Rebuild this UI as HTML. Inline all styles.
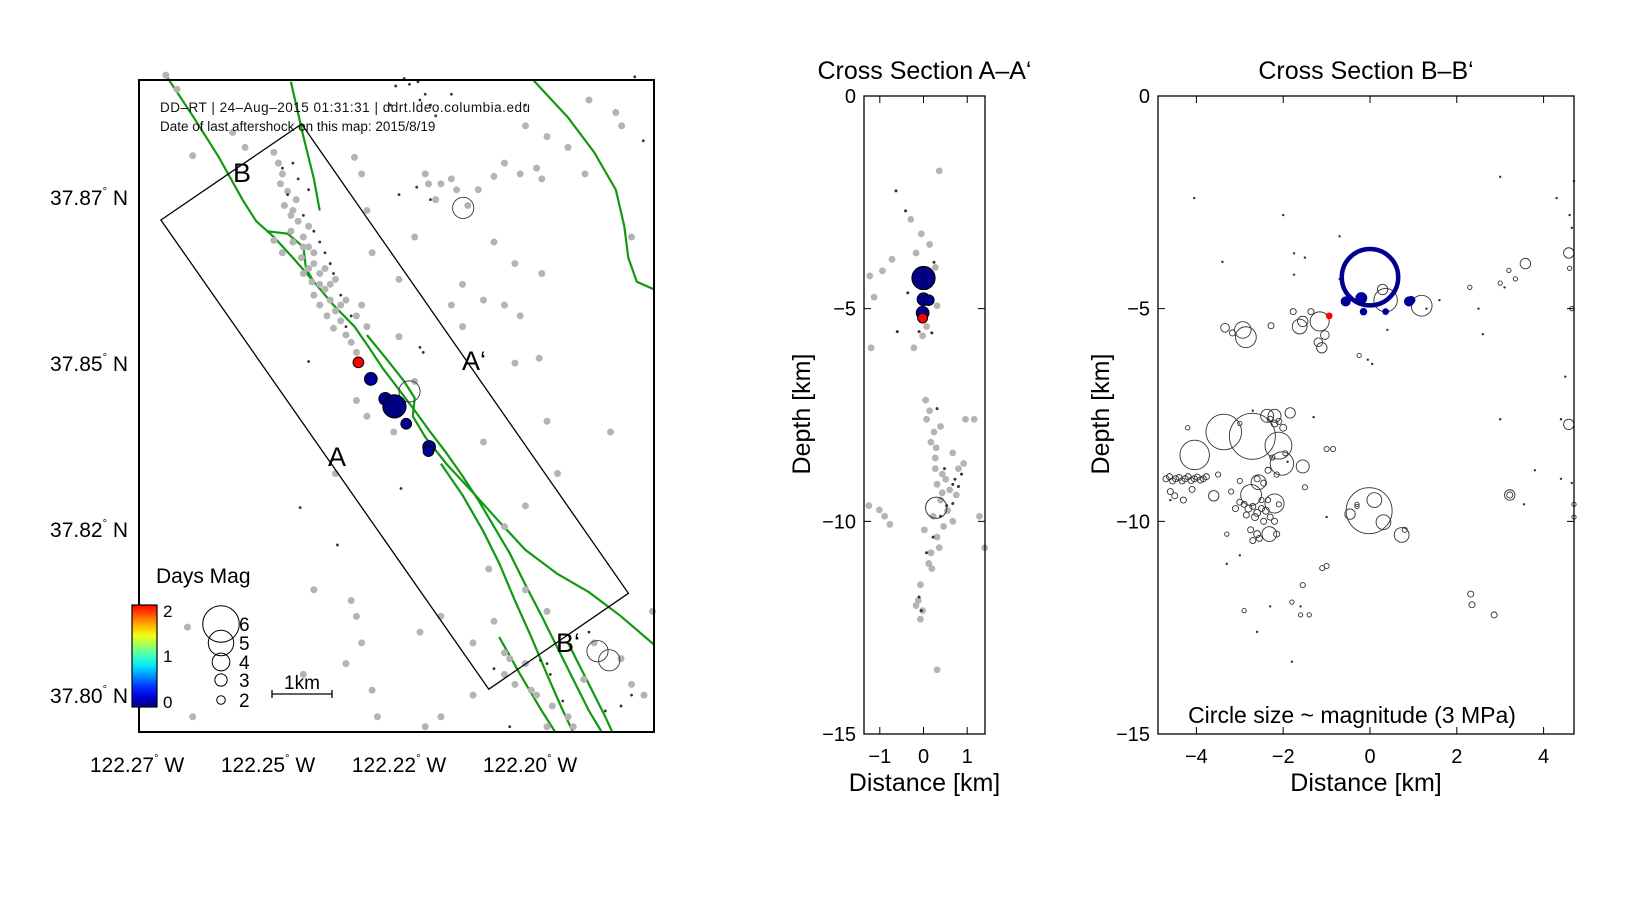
<!DOCTYPE html>
<html><head><meta charset="utf-8"><style>
html,body{margin:0;padding:0;background:#fff;}
svg{display:block;font-family:"Liberation Sans",sans-serif;}
</style></head><body>
<svg id="fig" xmlns="http://www.w3.org/2000/svg" width="1650" height="900" viewBox="0 0 1650 900">
<rect x="0" y="0" width="1650" height="900" fill="#fff"/>
<defs><linearGradient id="jet" x1="0" y1="1" x2="0" y2="0"></linearGradient></defs>
</svg>
<script>
// ---------------- MAP DATA ----------------
const lonTicks=[-122.27,-122.25,-122.23,-122.21];
const lonTickLabels=["122.27","122.25","122.22","122.20"];
const latTicks=[37.87,37.85,37.83,37.81];
const latTickLabels=["37.87","37.85","37.82","37.80"];
const grayLon=[-122.2491,-122.2484,-122.2478,-122.2481,-122.2470,-122.2475,-122.2462,-122.2454,-122.2465,-122.2446,-122.2438,-122.2449,-122.2430,-122.2421,-122.2433,-122.2413,-122.2405,-122.2421,-122.2397,-122.2389,-122.2400,-122.2381,-122.2373,-122.2365,-122.2438,-122.2457,-122.2430,-122.2413,-122.2397,-122.2381,-122.2410,-122.2462,-122.2446,-122.2430,-122.2478,-122.2491,-122.2365,-122.2357,-122.2349,-122.2421,-122.2438,-122.2405,-122.2389,-122.2465,-122.2446,
-122.2656,-122.2639,-122.2615,-122.2554,-122.2535,-122.2368,-122.2357,-122.2349,-122.2341,-122.2300,-122.2276,-122.2255,-122.2244,-122.2260,-122.2212,-122.2195,-122.2179,-122.2155,-122.2139,-122.2115,-122.2090,-122.2082,-122.2107,-122.2074,-122.2010,-122.1969,-122.1960,-122.2042,-122.2016,-122.1945,-122.2203,-122.2220,-122.2171,-122.2139,-122.2115,-122.2155,-122.2123,-122.2082,-122.2086,-122.2300,-122.2203,-122.2365,-122.2349,-122.2276,-122.2308,-122.2171,-122.2123,-122.2074,-122.1977,-122.2058,-122.2107,-122.2139,-122.2163,-122.2107,-122.2074,-122.2155,-122.2139,-122.2187,-122.2236,-122.2268,-122.2365,-122.2357,-122.2373,-122.2381,-122.2341,-122.2333,-122.2260,-122.2236,-122.2187,-122.2139,-122.2107,-122.2090,-122.2074,-122.2042,-122.2018,-122.2002,-122.1961,-122.1945,-122.1926,-122.1913,-122.2615,-122.2688,-122.2446,-122.2623,-122.2397,-122.2430,-122.2131,-122.2123,-122.2098,-122.2066,-122.2034,-122.2220,-122.2236];
const grayLat=[37.8755,37.8742,37.8729,37.8717,37.8708,37.8691,37.8685,37.8672,37.8660,37.8653,37.8641,37.8628,37.8621,37.8609,37.8599,37.8590,37.8577,37.8571,37.8564,37.8552,37.8543,37.8535,37.8526,37.8514,37.8666,37.8698,37.8634,37.8615,37.8602,37.8577,37.8558,37.8647,37.8609,37.8583,37.8634,37.8649,37.8558,37.8571,37.8545,37.8596,37.8615,37.8596,37.8571,37.8679,37.8641,
37.8848,37.8831,37.8751,37.8779,37.8761,37.8749,37.8729,37.8685,37.8634,37.8602,37.8653,37.8717,37.8698,37.8729,37.8710,37.8691,37.8710,37.8726,37.8742,37.8729,37.8736,37.8723,37.8787,37.8774,37.8818,37.8803,37.8787,37.8761,37.8729,37.8653,37.8596,37.8571,37.8577,37.8571,37.8558,37.8647,37.8621,37.8609,37.8507,37.8533,37.8545,37.8456,37.8437,37.8479,37.8418,37.8406,37.8501,37.8431,37.8418,37.8368,37.8329,37.8304,37.8253,37.8228,37.8202,37.8190,37.8152,37.8164,37.8196,37.8177,37.8196,37.8164,37.8215,37.8139,37.8107,37.8075,37.8063,37.8075,37.8101,37.8126,37.8139,37.8101,37.8063,37.8075,37.8120,37.8164,37.8145,37.8114,37.8101,37.8202,37.8075,37.8114,37.8126,37.8183,37.8368,37.8228,37.8145,37.8114,37.8107,37.8088,37.8063,37.8723,37.8717];
const blackLon=[-122.2284,-122.2271,-122.2260,-122.2268,-122.2252,-122.2244,-122.2292,-122.2305,-122.2313,-122.2300,-122.2273,-122.2252,-122.2220,-122.2107,-122.1940,-122.1927,-122.2478,-122.2470,-122.2446,-122.2430,-122.2413,-122.2400,-122.2389,-122.2373,-122.2438,-122.2454,-122.2268,-122.2263,-122.2438,-122.2297,-122.2394,-122.2451,-122.2084,-122.2074,-122.2069,-122.2010,-122.1961,-122.1945,-122.1985,-122.2050,-122.2155,-122.2131,-122.2462,-122.2421,-122.2405,-122.2381];
const blackLat=[37.8837,37.8840,37.8825,37.8818,37.8812,37.8799,37.8844,37.8835,37.8812,37.8704,37.8713,37.8698,37.8825,37.8812,37.8846,37.8769,37.8736,37.8704,37.8679,37.8660,37.8634,37.8609,37.8583,37.8558,37.8710,37.8723,37.8520,37.8514,37.8503,37.8350,37.8282,37.8327,37.8143,37.8139,37.8126,37.8177,37.8088,37.8101,37.8082,37.8094,37.8133,37.8063,37.8742,37.8647,37.8621,37.8545];
const evLon=[-122.2362,-122.2343,-122.2321,-122.2307,-122.2289,-122.2254,-122.2255];
const evLat=[37.8502,37.8482,37.8458,37.8449,37.8428,37.8400,37.8395];
const evDays=[2.0,0.05,0.05,0.0,0.05,0.05,0.05];
const evMag=[2.6,3.1,3.1,4.75,2.6,3.1,2.6];
const oldLon=[-122.2284,-122.2202,-122.1997,-122.1979];
const oldLat=[37.8467,37.8688,37.8154,37.8143];
const oldMag=[4.5,4.5,4.5,4.5];
const faultLon=[
[-122.2656,-122.2615,-122.2575,-122.2539,-122.2518,-122.2491,-122.2462,-122.2430,-122.2400,-122.2368,-122.2346,-122.2325,-122.2300,-122.2276,-122.2252,-122.2228,-122.2203,-122.2179,-122.2155,-122.2131,-122.2107,-122.2082,-122.2058,-122.2034,-122.2010,-122.1990],
[-122.2349,-122.2320,-122.2292,-122.2276,-122.2279,-122.2260,-122.2228,-122.2187,-122.2147,-122.2107,-122.2058,-122.2010,-122.1961,-122.1911],
[-122.2236,-122.2203,-122.2171,-122.2147,-122.2123,-122.2098,-122.2074,-122.2053,-122.2034],
[-122.2147,-122.2115,-122.2082,-122.2061],
[-122.2042,-122.2010,-122.1985,-122.1974],
[-122.2465,-122.2446,-122.2430,-122.2421],
[-122.2095,-122.2042,-122.2002,-122.1969,-122.1956,-122.1950,-122.1937,-122.1911],
[-122.2502,-122.2470,-122.2446,-122.2442,-122.2430]];
const faultLat=[
[37.8848,37.8799,37.8749,37.8698,37.8672,37.8653,37.8628,37.8599,37.8571,37.8545,37.8520,37.8495,37.8469,37.8444,37.8418,37.8393,37.8365,37.8336,37.8304,37.8272,37.8234,37.8196,37.8158,37.8120,37.8082,37.8056],
[37.8535,37.8507,37.8479,37.8459,37.8437,37.8412,37.8380,37.8345,37.8310,37.8276,37.8247,37.8225,37.8196,37.8162],
[37.8380,37.8342,37.8298,37.8260,37.8215,37.8171,37.8126,37.8088,37.8056],
[37.8171,37.8126,37.8082,37.8056],
[37.8164,37.8114,37.8075,37.8056],
[37.8840,37.8774,37.8723,37.8685],
[37.8842,37.8797,37.8755,37.8710,37.8666,37.8628,37.8599,37.8590],
[37.8660,37.8657,37.8641,37.8615,37.8599]];
const boxLon=[-122.26635,-122.24487,-122.19498,-122.21629];
const boxLat=[37.86735,37.87891,37.82237,37.81082];
const legendMags=[6,5,4,3,2];

// ---------------- CROSS SECTION A ----------------
const aXTicks=[-1,0,1];
const depthTicks=[0,-5,-10,-15];
const aGrayX=[0.36,-0.29,-0.05,-0.17,0.14,-0.72,-1.23,-0.94,-1.13,0.27,-0.22,0.07,-0.02,-1.20,0.39,0.05,0.07,0.17,0.27,0.27,0.31,0.39,0.55,0.67,0.46,0.31,0.17,0.19,-0.07,-0.12,-0.02,0.80,0.92,1.16,0.96,-1.25,-1.01,-0.89,-0.77,1.28,1.40,0.02,0.07,-0.05,0.31,0.07,0.67,0.43,0.60,0.22,0.31,0.02,0.14,0.24,0.29,0.43,0.51,0.75,0.36,0.12,-0.17,-0.07];
const aGrayD=[-1.76,-2.90,-3.24,-3.69,-3.49,-3.84,-4.23,-4.11,-4.73,-4.03,-5.92,-5.42,-5.64,-5.92,-7.77,-7.15,-7.60,-8.14,-8.51,-8.76,-9.13,-9.50,-9.75,-10.0,-10.12,-10.37,-10.74,-11.11,-11.49,-11.86,-12.10,-8.76,-8.64,-7.60,-7.60,-9.63,-9.73,-9.88,-10.07,-9.88,-10.62,-4.18,-4.38,-5.0,-4.93,-4.75,-8.39,-9.33,-9.26,-9.88,-13.49,-10.20,-7.40,-7.90,-8.27,-8.89,-9.01,-9.38,-10.62,-10.99,-11.98,-12.3];
const aBlackX=[-0.63,-0.41,0.24,-0.36,-0.60,-0.10,0.19,0.31,0.48,0.67,0.80,0.53,0.67,0.39,0.22,0.07,-0.10,-0.05,0.72,0.87];
const aBlackD=[-2.23,-2.70,-3.91,-4.63,-5.54,-5.54,-5.57,-7.35,-8.76,-9.13,-9.18,-9.63,-9.58,-9.88,-10.37,-10.74,-11.78,-12.10,-9.01,-8.89];
const aEvX=[0.0,0.0,0.12,-0.02,-0.02];
const aEvD=[-4.28,-4.78,-4.80,-5.10,-5.22];
const aEvDays=[0.0,0.05,0.05,0.05,2.0];
const aEvMag=[4.75,3.1,2.6,3.1,2.4];
const aOldX=[0.29]; const aOldD=[-9.68]; const aOldMag=[4.5];

// ---------------- CROSS SECTION B ----------------
const bXTicks=[-4,-2,0,2,4];
const bCircX=[1.19,0.36,0.29,-1.16,-2.86,-2.93,-1.62,-1.55,-1.11,-1.04,-1.19,-3.34,-3.17,-2.28,-1.77,-1.36,-3.37,-2.71,-4.04,-2.11,-2.03,-2.37,-2.20,-1.84,-2.74,-2.20,-2.57,-1.55,-3.6,-0.02,0.10,0.31,0.73,-0.46,3.22,3.22,3.58,4.58,4.58,2.32,2.35,2.86,-2.32,-2.15,
-4.70,-4.62,-4.55,-4.48,-4.40,-4.33,-4.26,-4.19,-4.12,-4.05,-3.98,-3.91,-3.84,-3.77,-4.6,-4.5,-4.3,-4.1,-3.5,-3.2,-3.0,
-2.9,-2.8,-2.7,-2.6,-2.5,-2.4,-2.3,-2.85,-2.65,-2.45,-2.75,-2.6,-2.2,-3.1,-3.0,-2.5,-2.35,-2.1,-2.7,-2.55,
-2.3,-2.2,-2.1,-2.0,-2.25,-2.15,-1.95,-2.45,-2.6,-2.35,
3.2,3.35,3.0,2.3,4.6,4.65,4.7,4.7,-1.0,-0.85,-1.5,-1.1,-1.0,0.8,-0.3,-0.3,-0.25,-1.55,-1.4,-1.6,-1.8,-2.9,-3.3,-4.2,-3.0];
const bCircD=[-4.93,-4.80,-4.55,-5.30,-5.67,-5.50,-5.42,-5.30,-5.92,-5.62,-5.79,-5.45,-5.57,-5.40,-5.07,-5.07,-7.90,-8.00,-8.44,-8.22,-8.64,-7.52,-7.52,-7.45,-9.38,-9.58,-9.08,-8.71,-9.4,-9.75,-9.50,-10.02,-10.32,-9.83,-9.38,-9.38,-3.94,-3.69,-7.72,-11.71,-11.96,-12.20,-10.30,-10.3,
-9.0,-8.95,-9.05,-9.0,-8.97,-9.05,-9.0,-8.95,-9.04,-9.0,-8.96,-9.03,-9.0,-8.95,-9.3,-9.4,-9.5,-9.25,-8.9,-9.3,-9.05,
-9.6,-9.7,-9.65,-9.8,-9.7,-9.75,-9.9,-9.85,-9.9,-10.0,-10.2,-10.3,-10.0,-9.7,-9.55,-9.5,-9.5,-9.6,-10.45,-10.4,
-7.6,-7.7,-7.65,-7.8,-8.5,-8.9,-8.4,-9.1,-9.0,-8.8,
-4.1,-4.3,-4.4,-4.5,-4.05,-5.0,-9.6,-9.9,-8.3,-8.3,-9.2,-11.1,-11.05,-10.2,-9.6,-9.65,-6.1,-11.5,-12.2,-12.2,-11.9,-12.1,-10.3,-7.8,-7.7];
const bCircR=[0.24,0.27,0.12,0.22,0.24,0.19,0.17,0.12,0.12,0.10,0.10,0.10,0.07,0.07,0.07,0.07,0.41,0.53,0.34,0.31,0.27,0.15,0.15,0.12,0.24,0.22,0.17,0.15,0.12,0.53,0.17,0.17,0.17,0.12,0.12,0.07,0.12,0.12,0.12,0.07,0.07,0.07,0.17,0.07,
0.07,0.07,0.07,0.07,0.07,0.07,0.07,0.07,0.07,0.07,0.07,0.07,0.07,0.07,0.07,0.07,0.07,0.07,0.06,0.06,0.06,
0.07,0.08,0.07,0.08,0.07,0.08,0.07,0.07,0.08,0.07,0.07,0.08,0.07,0.07,0.07,0.06,0.06,0.06,0.07,0.07,
0.07,0.08,0.07,0.08,0.06,0.06,0.06,0.07,0.07,0.07,
0.05,0.05,0.05,0.05,0.05,0.05,0.05,0.05,0.06,0.06,0.06,0.06,0.06,0.06,0.05,0.05,0.05,0.06,0.05,0.05,0.05,0.05,0.05,0.05,0.05];
const bDotX=[-4.05,-3.4,-2.0,-1.75,-1.5,-1.75,-0.7,-0.7,1.3,1.6,0.4,-0.1,2.5,2.6,4.3,4.7,3.0,4.6,4.5,3.0,4.4,3.8,4.4,3.55,4.65,-1.3,-1.6,-2.6,-1.8,-2.3,-4.6,-3.3,-0.05,0.05,-1.9,-2.7,-3.0,3.1,4.65,-1.0];
const bDotD=[-2.4,-3.9,-2.8,-3.7,-3.8,-4.2,-3.3,-4.3,-5.0,-4.8,-5.5,-5.1,-5.0,-5.6,-2.4,-2.0,-1.9,-2.8,-6.6,-7.6,-7.6,-8.8,-9.0,-9.6,-9.1,-7.55,-12.0,-12.6,-13.3,-12.0,-9.5,-11.0,-6.2,-6.3,-8.6,-7.4,-10.8,-4.5,-3.1,-9.9];
const bMainX=[0.0]; const bMainD=[-4.26]; const bMainR=[0.65];
const bEvX=[-0.56,-0.20,-0.15,0.36,0.90,0.95,-0.94];
const bEvD=[-4.83,-4.75,-5.07,-5.07,-4.83,-4.80,-5.17];
const bEvR=[0.10,0.12,0.07,0.06,0.10,0.08,0.06];
const bEvDays=[0.05,0.05,0.05,0.05,0.05,0.05,2.0];

// ---------------- DRAWING ----------------
const NS='http://www.w3.org/2000/svg';
const svg=document.getElementById('fig');
function mk(tag,attrs,parent){const e=document.createElementNS(NS,tag);for(const k in attrs)e.setAttribute(k,attrs[k]);(parent||svg).appendChild(e);return e;}
function jet(v){const t=Math.max(0,Math.min(1,v));const c=x=>Math.round(255*Math.max(0,Math.min(1,1.5-Math.abs(4*t-x))));return 'rgb('+c(3)+','+c(2)+','+c(1)+')';}
function dayColor(d){return jet(Math.max(0,Math.min(2,d))/2*0.875);}
function magR(m){return 2.08*Math.exp(0.362*m);}

const mapL=139,mapT=80,mapR=654,mapB=732;
function xMap(lon){return 137+(lon+122.27)*6550;}
function yMap(lat){return 198-(lat-37.87)*8300;}

const gMap=mk('g',{});


faultLon.forEach((arr,i)=>{
  const pts=arr.map((lo,j)=>xMap(lo).toFixed(1)+','+yMap(faultLat[i][j]).toFixed(1)).join(' ');
  const pl=mk('polyline',{points:pts,fill:'none',stroke:'#119911','stroke-width':2.2},gMap);
  
  
});
grayLon.forEach((lo,i)=>{
  const c=mk('circle',{cx:xMap(lo),cy:yMap(grayLat[i]),r:3.5,fill:'#b4b4b4'},gMap);
  
  
});
blackLon.forEach((lo,i)=>{
  const c=mk('circle',{cx:xMap(lo),cy:yMap(blackLat[i]),r:1.4,fill:'#333'},gMap);
  
  
});
const boxPts=boxLon.map((lo,i)=>xMap(lo).toFixed(1)+','+yMap(boxLat[i]).toFixed(1)).join(' ');
const box=mk('polygon',{points:boxPts,fill:'none',stroke:'#000','stroke-width':1.3},gMap);


oldLon.forEach((lo,i)=>{
  const c=mk('circle',{cx:xMap(lo),cy:yMap(oldLat[i]),r:magR(oldMag[i]),fill:'none',stroke:'#333','stroke-width':0.9},gMap);
  
  
});
evLon.forEach((lo,i)=>{
  const c=mk('circle',{cx:xMap(lo),cy:yMap(evLat[i]),r:magR(evMag[i]),fill:dayColor(evDays[i]),stroke:'#000','stroke-width':1},gMap);
  
  
});
const frame=mk('rect',{x:mapL,y:mapT,width:mapR-mapL,height:mapB-mapT,fill:'none',stroke:'#000','stroke-width':2},gMap);


lonTicks.forEach((v,i)=>{
  const t=mk('text',{x:xMap(v),y:772,'font-size':21,'text-anchor':'middle',fill:'#000'},gMap);
  t.innerHTML=lonTickLabels[i]+'<tspan font-size="11" dy="-10">°</tspan><tspan dy="10"> W</tspan>';
  
  
});
latTicks.forEach((v,i)=>{
  const t=mk('text',{x:128,y:yMap(v)+7,'font-size':21,'text-anchor':'end',fill:'#000'},gMap);
  t.innerHTML=latTickLabels[i]+'<tspan font-size="11" dy="-10">°</tspan><tspan dy="10"> N</tspan>';
  
  
});
const info1=mk('text',{x:160,y:112,'font-size':13.5,fill:'#111',textLength:370},gMap);
info1.textContent='DD–RT | 24–Aug–2015 01:31:31 | ddrt.ldeo.columbia.edu';


const info2=mk('text',{x:160,y:131,'font-size':13.5,fill:'#111'},gMap);
info2.textContent='Date of last aftershock on this map: 2015/8/19';


[['B',242,182,'label-b'],['A‘',474,370,'label-a-prime'],['A',337,466,'label-a'],['B‘',568,652,'label-b-prime']].forEach(d=>{
  const t=mk('text',{x:d[1],y:d[2],'font-size':27,fill:'#000','text-anchor':'middle'},gMap);
  t.textContent=d[0];
  
  
});
const lt=mk('text',{x:156,y:583,'font-size':21,fill:'#000'},gMap);
lt.textContent='Days Mag';


const grad=document.getElementById('jet');
for(let i=0;i<=10;i++){mk('stop',{offset:(i/10),'stop-color':dayColor(2*i/10)},grad);}
const cb=mk('rect',{x:132,y:605,width:25,height:102,fill:'url(#jet)',stroke:'#000','stroke-width':1.2},gMap);


[['2',617],['1',662],['0',708]].forEach(d=>{
  const t=mk('text',{x:163,y:d[1],'font-size':17,fill:'#000'},gMap);
  t.textContent=d[0];
  
  
});
const legY=[624,643,662,680,700];
legendMags.forEach((m,i)=>{
  const c=mk('circle',{cx:221,cy:legY[i],r:magR(m),fill:'none',stroke:'#000','stroke-width':1},gMap);
  
  
  const t=mk('text',{x:239,y:legY[i]+7,'font-size':19,fill:'#000'},gMap);
  t.textContent=String(m);
  
  
});
const sb=mk('path',{d:'M272,694H332M272,690V698M332,690V698',stroke:'#000','stroke-width':1.3,fill:'none'},gMap);


const sbt=mk('text',{x:302,y:689,'font-size':19,'text-anchor':'middle',fill:'#000'},gMap);
sbt.textContent='1km';



function drawAxes(g,L,R,T,B,xf,yf,xticks,title,name){
  const f=mk('rect',{x:L,y:T,width:R-L,height:B-T,fill:'none',stroke:'#000','stroke-width':1.3},g);
  
  
  depthTicks.forEach(v=>{
    const y=yf(v);
    mk('path',{d:'M'+L+','+y+'h7M'+R+','+y+'h-7',stroke:'#000','stroke-width':1},g);
    const t=mk('text',{x:L-8,y:y+7,'font-size':20,'text-anchor':'end',fill:'#000'},g);
    t.textContent=v<0?'−'+(-v):String(v);
    
    
  });
  xticks.forEach(v=>{
    const x=xf(v);
    mk('path',{d:'M'+x+','+B+'v-7M'+x+','+T+'v7',stroke:'#000','stroke-width':1},g);
    const t=mk('text',{x:x,y:763,'font-size':20,'text-anchor':'middle',fill:'#000'},g);
    t.textContent=v<0?'−'+(-v):String(v);
    
    
  });
  const tt=mk('text',{x:(L+R)/2,y:79,'font-size':25,'text-anchor':'middle',fill:'#000'},g);
  tt.textContent=title;
  
  
  const xl=mk('text',{x:(L+R)/2,y:791,'font-size':25,'text-anchor':'middle',fill:'#000'},g);
  xl.textContent='Distance [km]';
  
  
}

// A
const aL=864,aR=985,aT=96,aB=734;
function xA(k){return 923.5+k*43.7;}
function yA(d){return aT+(-d)*(aB-aT)/15;}
const gA=mk('g',{});


aGrayX.forEach((x,i)=>{
  const c=mk('circle',{cx:xA(x),cy:yA(aGrayD[i]),r:3.4,fill:'#b4b4b4'},gA);
  
  
});
aBlackX.forEach((x,i)=>{
  const c=mk('circle',{cx:xA(x),cy:yA(aBlackD[i]),r:1.5,fill:'#333'},gA);
  
  
});
aOldX.forEach((x,i)=>{
  const c=mk('circle',{cx:xA(x),cy:yA(aOldD[i]),r:magR(aOldMag[i]),fill:'none',stroke:'#333'},gA);
  
  
});
aEvX.forEach((x,i)=>{
  const c=mk('circle',{cx:xA(x),cy:yA(aEvD[i]),r:magR(aEvMag[i]),fill:dayColor(aEvDays[i]),stroke:'#000'},gA);
  
  
});
drawAxes(gA,aL,aR,aT,aB,xA,yA,aXTicks,'Cross Section A–A‘','cross-section-a');
const dA=mk('text',{x:0,y:0,'font-size':25,'text-anchor':'middle',fill:'#000',transform:'translate(810,414) rotate(-90)'},gA);
dA.textContent='Depth [km]';



// B
const bL=1158,bR=1574,bT=96,bB=734;
function xB(k){return 1370+k*43.4;}
function yB(d){return bT+(-d)*(bB-bT)/15;}
const gB=mk('g',{});


bDotX.forEach((x,i)=>{
  const c=mk('circle',{cx:xB(x),cy:yB(bDotD[i]),r:1.2,fill:'#333'},gB);
  
  
});
bCircX.forEach((x,i)=>{
  const c=mk('circle',{cx:xB(x),cy:yB(bCircD[i]),r:bCircR[i]*43.4,fill:'none',stroke:'#333','stroke-width':0.9},gB);
  
  
});
bMainX.forEach((x,i)=>{
  const c=mk('circle',{cx:xB(x),cy:yB(bMainD[i]),r:bMainR[i]*43.4,fill:'none',stroke:'#00008f','stroke-width':4.5},gB);
  
  
});
bEvX.forEach((x,i)=>{
  const col=dayColor(bEvDays[i]);
  const c=mk('circle',{cx:xB(x),cy:yB(bEvD[i]),r:bEvR[i]*43.4,fill:col,stroke:col,'stroke-width':1.5},gB);
  
  
});
drawAxes(gB,bL,bR,bT,bB,xB,yB,bXTicks,'Cross Section B–B‘','cross-section-b');
const dB=mk('text',{x:0,y:0,'font-size':25,'text-anchor':'middle',fill:'#000',transform:'translate(1109,414) rotate(-90)'},gB);
dB.textContent='Depth [km]';


const note=mk('text',{x:1352,y:723,'font-size':23,'text-anchor':'middle',fill:'#000'},gB);
note.textContent='Circle size ~ magnitude (3 MPa)';


</script>
</body></html>
